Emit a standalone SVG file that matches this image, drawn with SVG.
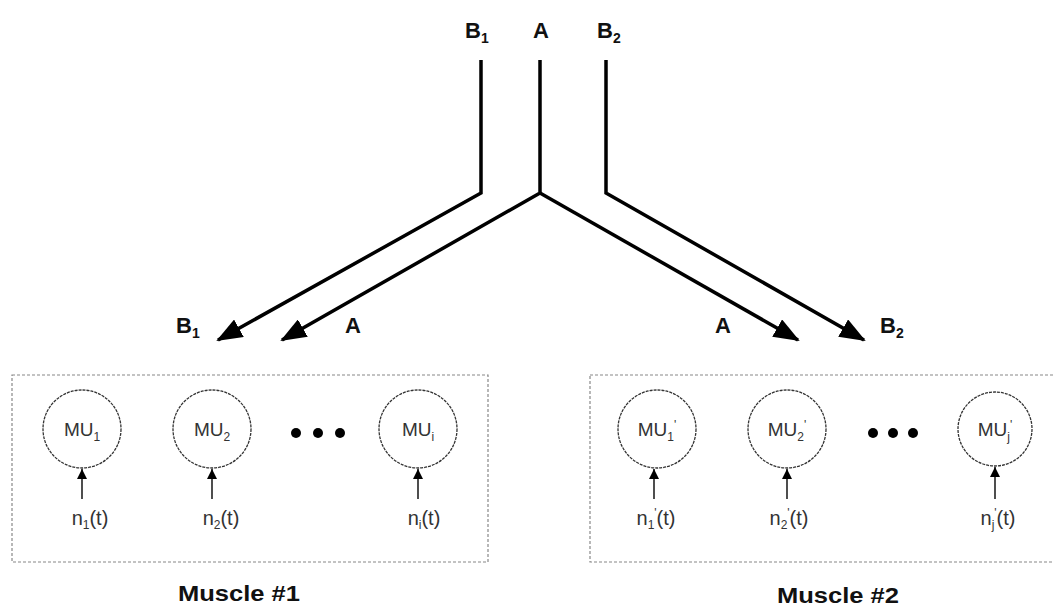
<svg xmlns="http://www.w3.org/2000/svg" width="1053" height="607" viewBox="0 0 1053 607">
<style>
.big{font-family:"Liberation Sans",Arial,sans-serif;font-weight:bold;font-size:22px;fill:#111}
.bsub{font-size:14px}
.mu{font-family:"Liberation Sans",Arial,sans-serif;font-size:19px;fill:#333;text-anchor:middle}
.lbl{font-family:"Liberation Sans",Arial,sans-serif;font-size:20px;fill:#333;text-anchor:middle}
.s{font-size:12px}
.muscle{font-family:"Liberation Sans",Arial,sans-serif;font-weight:bold;font-size:22px;fill:#111;text-anchor:middle}
.box{fill:none;stroke:#888;stroke-width:1.2;stroke-dasharray:3 2}
.circ{fill:none;stroke:#333;stroke-width:1.3;stroke-dasharray:3 1}
.thick{fill:none;stroke:#000;stroke-width:3.5;stroke-linejoin:miter}
.thin{fill:none;stroke:#222;stroke-width:1.6}
.dot{fill:#000}
</style>
<defs>
<marker id="big" markerUnits="userSpaceOnUse" markerWidth="26" markerHeight="20" refX="24" refY="10" orient="auto">
<path d="M0,0 L26,10 L0,20 Z" fill="#000"/>
</marker>
<marker id="small" markerUnits="userSpaceOnUse" markerWidth="10" markerHeight="10" refX="10" refY="5" orient="auto">
<path d="M0,0 L10,5 L0,10 Z" fill="#000"/>
</marker>
</defs>

<g id="boxes">
<rect id="muscle1-box" class="box" x="12" y="375" width="476" height="187"/>
<rect id="muscle2-box" class="box" x="590" y="375" width="480" height="187"/>
</g>

<g id="top-labels">
<text class="big" x="465" y="38">B<tspan class="bsub" dy="5">1</tspan></text>
<text class="big" x="541" y="38" text-anchor="middle">A</text>
<text class="big" x="597" y="38">B<tspan class="bsub" dy="5">2</tspan></text>
</g>

<g id="connectors">
<path class="thick" d="M481,60 L481,193 L218,340" marker-end="url(#big)"/>
<path class="thick" d="M540,60 L540,193 L282,340" marker-end="url(#big)"/>
<path class="thick" d="M540,193 L798,340" marker-end="url(#big)"/>
<path class="thick" d="M606,60 L606,193 L864,340" marker-end="url(#big)"/>
<line class="thin" x1="82" y1="499" x2="82" y2="469" marker-end="url(#small)"/>
<line class="thin" x1="212" y1="499" x2="212" y2="469" marker-end="url(#small)"/>
<line class="thin" x1="418" y1="499" x2="418" y2="469" marker-end="url(#small)"/>
<line class="thin" x1="654" y1="499" x2="654" y2="469" marker-end="url(#small)"/>
<line class="thin" x1="787" y1="499" x2="787" y2="469" marker-end="url(#small)"/>
<line class="thin" x1="995" y1="499" x2="995" y2="467" marker-end="url(#small)"/>
</g>

<g id="arrow-labels">
<text class="big" x="176" y="333">B<tspan class="bsub" dy="5">1</tspan></text>
<text class="big" x="353" y="333" text-anchor="middle">A</text>
<text class="big" x="723" y="333" text-anchor="middle">A</text>
<text class="big" x="880" y="333">B<tspan class="bsub" dy="5">2</tspan></text>
</g>

<g id="mu1">
<circle class="circ" cx="82" cy="429" r="39"/>
<text class="mu" x="82" y="436">MU<tspan class="s" dy="5">1</tspan></text>
<text class="lbl" x="90" y="525">n<tspan class="s" dy="4">1</tspan><tspan dy="-4">(t)</tspan></text>
</g>
<g id="mu2">
<circle class="circ" cx="212" cy="429" r="39"/>
<text class="mu" x="212" y="436">MU<tspan class="s" dy="5">2</tspan></text>
<text class="lbl" x="221" y="525">n<tspan class="s" dy="4">2</tspan><tspan dy="-4">(t)</tspan></text>
</g>
<g id="dots1">
<circle class="dot" cx="296" cy="433" r="5"/>
<circle class="dot" cx="318" cy="433" r="5"/>
<circle class="dot" cx="340" cy="433" r="5"/>
</g>
<g id="mui">
<circle class="circ" cx="418" cy="429" r="39"/>
<text class="mu" x="418" y="436">MU<tspan class="s" dy="5">i</tspan></text>
<text class="lbl" x="424" y="525">n<tspan class="s" dy="4">i</tspan><tspan dy="-4">(t)</tspan></text>
</g>

<g id="mu1p">
<circle class="circ" cx="657" cy="429" r="39"/>
<text class="mu" x="657" y="436">MU<tspan class="s" dy="5">1</tspan><tspan class="s" dy="-12">'</tspan></text>
<text class="lbl" x="656" y="525">n<tspan class="s" dy="4">1</tspan><tspan class="s" dy="-12">'</tspan><tspan dy="8">(t)</tspan></text>
</g>
<g id="mu2p">
<circle class="circ" cx="787" cy="429" r="39"/>
<text class="mu" x="787" y="436">MU<tspan class="s" dy="5">2</tspan><tspan class="s" dy="-12">'</tspan></text>
<text class="lbl" x="789" y="525">n<tspan class="s" dy="4">2</tspan><tspan class="s" dy="-12">'</tspan><tspan dy="8">(t)</tspan></text>
</g>
<g id="dots2">
<circle class="dot" cx="873" cy="433" r="5"/>
<circle class="dot" cx="893" cy="433" r="5"/>
<circle class="dot" cx="913" cy="433" r="5"/>
</g>
<g id="mujp">
<circle class="circ" cx="995" cy="429" r="37"/>
<text class="mu" x="995" y="436">MU<tspan class="s" dy="5">j</tspan><tspan class="s" dy="-12">'</tspan></text>
<text class="lbl" x="998" y="525">n<tspan class="s" dy="4">j</tspan><tspan class="s" dy="-12">'</tspan><tspan dy="8">(t)</tspan></text>
</g>

<g id="muscle-labels">
<text class="muscle" x="239" y="601" textLength="122" lengthAdjust="spacingAndGlyphs">Muscle #1</text>
<text class="muscle" x="838" y="603" textLength="122" lengthAdjust="spacingAndGlyphs">Muscle #2</text>
</g>
</svg>
